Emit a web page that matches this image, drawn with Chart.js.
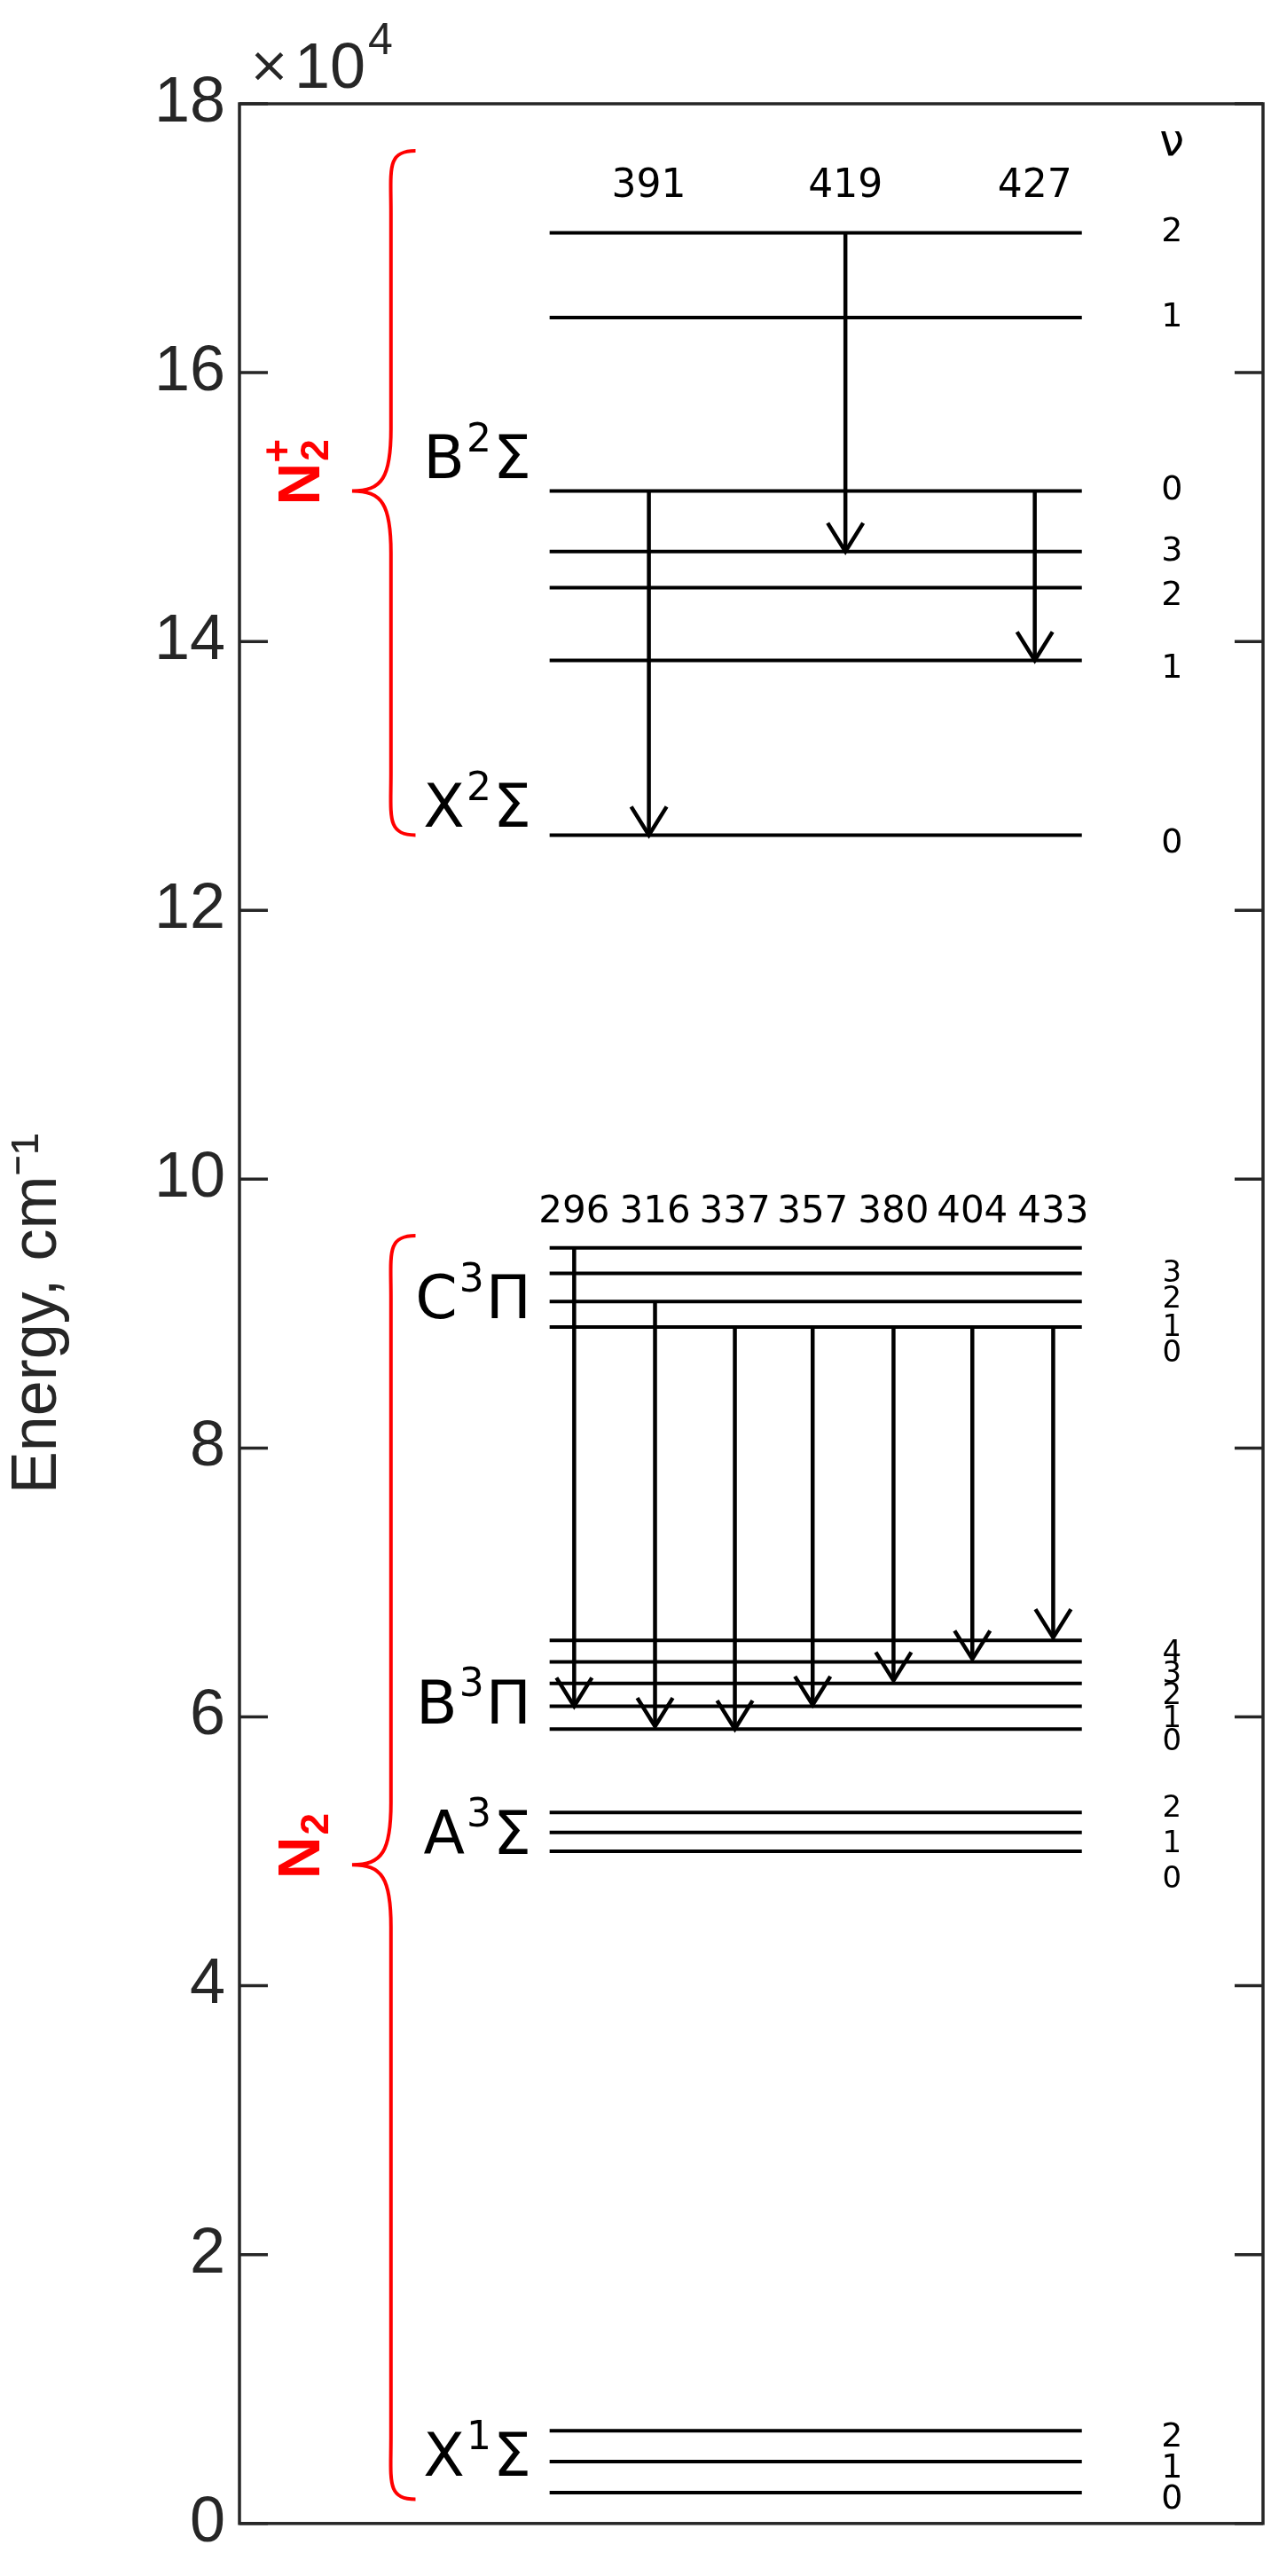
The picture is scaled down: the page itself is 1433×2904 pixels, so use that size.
<!DOCTYPE html>
<html>
<head>
<meta charset="utf-8">
<script src="https://cdn.jsdelivr.net/npm/chart.js@4"></script>
<style>body{margin:0;background:#fff}</style>
</head>
<body>
<canvas id="c" width="1433" height="2904"></canvas>
<script>
// energy levels, cm^-1
const n2pB = [151200, 164100, 170400];
const n2pX = [125600, 138600, 144000, 146700];
const n2C = [89000, 90900, 93000, 94900];
const n2B = [59100, 60800, 62500, 64100, 65700];
const n2A = [50000, 51400, 52900];
const n2X = [2300, 4600, 6900];
const levelStart = 30.3, levelEnd = 82.3;

// transitions: label, x position, from energy, to energy
const waveLabels = ['391', '419', '427', '296', '316', '337', '357', '380', '404', '433'];
const waveX = [40, 59.2, 77.7, 32.7, 40.6, 48.4, 56, 63.9, 71.6, 79.5];
const waveFrom = [151200, 170400, 151200, 94900, 90900, 89000, 89000, 89000, 89000, 89000];
const waveTo = [125600, 146700, 138600, 60800, 59300, 59100, 60900, 62700, 64300, 65900];

const stateNames = [['B', '2', 'Σ'], ['X', '2', 'Σ'], ['C', '3', 'Π'], ['B', '3', 'Π'], ['A', '3', 'Σ'], ['X', '1', 'Σ']];
const stateY = [153300, 127400, 90800, 60700, 51000, 4700];

const yTicks = [0, 2, 4, 6, 8, 10, 12, 14, 16, 18];

const datasets = [];
const allLevels = [...n2pB, ...n2pX, ...n2C, ...n2B, ...n2A, ...n2X];
allLevels.forEach(e => datasets.push({
  data: [{x: levelStart, y: e}, {x: levelEnd, y: e}],
  borderColor: '#000', borderWidth: 4, pointRadius: 0, showLine: true
}));
waveX.forEach((x, i) => datasets.push({
  data: [{x: x, y: waveFrom[i]}, {x: x, y: waveTo[i]}],
  borderColor: '#000', borderWidth: 4.5, pointRadius: 0, showLine: true
}));

function txt(ctx, s, x, y, font, color, align) {
  ctx.font = font; ctx.fillStyle = color || '#000';
  ctx.textAlign = align || 'center'; ctx.textBaseline = 'middle';
  ctx.fillText(s, x, y);
}

function brace(ctx, xs, ys, tipY, y1, y2) {
  const xv = xs.getPixelForValue(14.8), xe = xs.getPixelForValue(17.2), xt = xs.getPixelForValue(11.0);
  const top = ys.getPixelForValue(y1), bot = ys.getPixelForValue(y2), tip = ys.getPixelForValue(tipY);
  const r = 70;
  ctx.beginPath();
  ctx.moveTo(xe, top);
  ctx.bezierCurveTo(xv - 5, top, xv, top + 20, xv, top + r);
  ctx.lineTo(xv, tip - r);
  ctx.bezierCurveTo(xv, tip - 15, xv - 10, tip, xt, tip);
  ctx.bezierCurveTo(xv - 10, tip, xv, tip + 15, xv, tip + r);
  ctx.lineTo(xv, bot - r);
  ctx.bezierCurveTo(xv, bot - 20, xv - 5, bot, xe, bot);
  ctx.strokeStyle = '#ff0000'; ctx.lineWidth = 4; ctx.stroke();
}

const extras = {
  id: 'extras',
  afterDatasetsDraw(chart) {
    const ctx = chart.ctx, xs = chart.scales.x, ys = chart.scales.y, a = chart.chartArea;
    ctx.save();
    // box + mirrored ticks
    ctx.strokeStyle = '#262626'; ctx.lineWidth = 3.5;
    ctx.strokeRect(a.left, a.top, a.right - a.left, a.bottom - a.top);
    yTicks.forEach(t => {
      const y = ys.getPixelForValue(t * 1e4);
      ctx.beginPath(); ctx.moveTo(a.left, y); ctx.lineTo(a.left + 32, y);
      ctx.moveTo(a.right, y); ctx.lineTo(a.right - 32, y); ctx.stroke();
    });
    // exponent
    txt(ctx, '×', a.left + 10, a.top - 40, '56px "DejaVu Sans"', '#262626', 'left');
    txt(ctx, '10', a.left + 62, a.top - 38, '72px "Liberation Sans"', '#262626', 'left');
    txt(ctx, '4', a.left + 145, a.top - 70, '50px "Liberation Sans"', '#262626', 'left');
    // arrowheads
    ctx.strokeStyle = '#000'; ctx.lineWidth = 4.5;
    waveX.forEach((x, i) => {
      const px = xs.getPixelForValue(x), py = ys.getPixelForValue(waveTo[i]);
      ctx.beginPath(); ctx.moveTo(px - 20, py - 32); ctx.lineTo(px, py); ctx.lineTo(px + 20, py - 32); ctx.stroke();
      const ly = i < 3 ? 173800 : 97500;
      txt(ctx, waveLabels[i], px, ys.getPixelForValue(ly), (i < 3 ? '44px' : '42px') + ' "DejaVu Sans"');
    });
    // state names
    stateNames.forEach((s, i) => {
      const xr = xs.getPixelForValue(28.5), y = ys.getPixelForValue(stateY[i]);
      ctx.font = '68px "DejaVu Sans"';
      const w3 = ctx.measureText(s[2]).width;
      ctx.font = '44px "DejaVu Sans"';
      const w2 = ctx.measureText(s[1]).width;
      txt(ctx, s[2], xr, y, '68px "DejaVu Sans"', '#000', 'right');
      txt(ctx, s[1], xr - w3 - 2, y - 24, '44px "DejaVu Sans"', '#000', 'right');
      txt(ctx, s[0], xr - w3 - w2 - 4, y, '68px "DejaVu Sans"', '#000', 'right');
    });
    // vibrational numbers
    const vx = xs.getPixelForValue(91.1);
    txt(ctx, 'ν', vx, ys.getPixelForValue(177000), '50px "DejaVu Sans"');
    n2pB.forEach((e, k) => txt(ctx, String(k), vx, ys.getPixelForValue(e), '38px "DejaVu Sans"'));
    n2pX.forEach((e, k) => txt(ctx, String(k), vx, ys.getPixelForValue(e) + (k === 3 ? 0 : 10), '38px "DejaVu Sans"'));
    n2C.forEach((e, k) => txt(ctx, String(k), vx, ys.getPixelForValue(e) + 30, '34px "DejaVu Sans"'));
    n2B.forEach((e, k) => txt(ctx, String(k), vx, ys.getPixelForValue(e) + 15, '34px "DejaVu Sans"'));
    n2A.forEach((e, k) => txt(ctx, String(k), vx, ys.getPixelForValue(n2A[0]) + 32 - k * 40, '34px "DejaVu Sans"'));
    n2X.forEach((e, k) => txt(ctx, String(k), vx, ys.getPixelForValue(e) + 8, '38px "DejaVu Sans"'));
    // braces
    brace(ctx, xs, ys, 151200, 176500, 125600);
    brace(ctx, xs, ys, 49000, 95800, 1800);
    // red molecule labels, rotated
    const redLabel = (yv, plus) => {
      ctx.save();
      ctx.translate(xs.getPixelForValue(6.2), ys.getPixelForValue(yv));
      ctx.rotate(-Math.PI / 2);
      txt(ctx, 'N', -12, 0, 'bold 66px "Liberation Sans"', '#ff0000', 'center');
      txt(ctx, '2', 14, 16, 'bold 44px "Liberation Sans"', '#ff0000', 'left');
      if (plus) txt(ctx, '+', 12, -26, 'bold 46px "Liberation Sans"', '#ff0000', 'left');
      ctx.restore();
    };
    redLabel(152500, true);
    redLabel(50300, false);
    ctx.restore();
  }
};

new Chart(document.getElementById('c'), {
  type: 'scatter',
  data: { datasets: datasets },
  options: {
    responsive: false,
    animation: false,
    layout: { padding: { top: 117, right: 9, bottom: 38, left: 0 } },
    plugins: { legend: { display: false }, tooltip: { enabled: false } },
    scales: {
      x: { display: false, min: 0, max: 100 },
      y: {
        min: 0, max: 180000,
        afterFit: s => { s.width = 270; },
        afterBuildTicks: s => { s.ticks = yTicks.map(t => ({ value: t * 1e4 })); },
        grid: { display: false, drawTicks: false },
        border: { display: false },
        ticks: {
          color: '#262626', padding: 16,
          font: { family: 'Liberation Sans', size: 72 },
          callback: v => String(v / 1e4)
        },
        title: {
          display: true, text: 'Energy, cm⁻¹', color: '#262626', padding: 0,
          font: { family: 'Liberation Sans Narrow, Liberation Sans', size: 72 }
        }
      }
    }
  },
  plugins: [extras]
});
</script>
</body>
</html>
